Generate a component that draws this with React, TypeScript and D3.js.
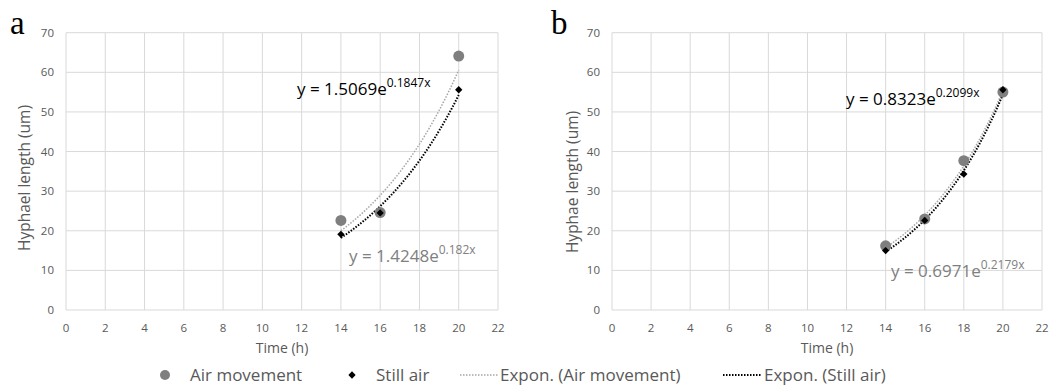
import React, { useEffect, useRef } from "react";
import * as d3 from "d3";

// panel a
const timesA = [14, 16, 20];
const airMovementA = [22.6, 24.6, 64.1];
const stillAirA = [19.1, 24.5, 55.6];
// exponential trendlines a = [air movement, still air]
const fitCoefA = [1.5069, 1.4248];
const fitRateA = [0.1847, 0.182];
const fitLabelsA = [
  ["y = 1.5069e", "0.1847x"],
  ["y = 1.4248e", "0.182x"],
];

// panel b
const timesB = [14, 16, 18, 20];
const airMovementB = [16.2, 23.0, 37.7, 55.0];
const stillAirB = [15.0, 22.6, 34.3, 55.6];
const fitCoefB = [0.8323, 0.6971];
const fitRateB = [0.2099, 0.2179];
const fitLabelsB = [
  ["y = 0.8323e", "0.2099x"],
  ["y = 0.6971e", "0.2179x"],
];

const xTicks = [0, 2, 4, 6, 8, 10, 12, 14, 16, 18, 20, 22];
const yTicks = [0, 10, 20, 30, 40, 50, 60, 70];
const legendNames = [
  "Air movement",
  "Still air",
  "Expon. (Air movement)",
  "Expon. (Still air)",
];

const FONT = "'Open Sans', sans-serif";
const GRAY = "#7f7f7f";
const TXT = "#595959";

const App = () => {
  const ref = useRef(null);
  const dimensions = { width: 1059, height: 385 };

  useEffect(() => {
    const svg = d3.select(ref.current);
    svg.selectAll("*").remove();
    svg
      .attr("width", dimensions.width)
      .attr("height", dimensions.height)
      .style("background-color", "white");

    const panels = [
      {
        letter: "a",
        letterX: 10,
        left: 66,
        right: 498,
        yTitle: "Hyphael length (um)",
        yTitleX: 30,
        yTitleY: 178,
        times: timesA,
        air: airMovementA,
        still: stillAirA,
        coef: fitCoefA,
        rate: fitRateA,
        labels: fitLabelsA,
        labelPos: [
          [297, 95, "#000000"],
          [349, 262, "#808080"],
        ],
      },
      {
        letter: "b",
        letterX: 551,
        left: 612,
        right: 1042,
        yTitle: "Hyphae length (um)",
        yTitleX: 578,
        yTitleY: 182,
        times: timesB,
        air: airMovementB,
        still: stillAirB,
        coef: fitCoefB,
        rate: fitRateB,
        labels: fitLabelsB,
        labelPos: [
          [846, 105, "#000000"],
          [891, 277, "#808080"],
        ],
      },
    ];

    panels.forEach((p) => {
      const x = d3.scaleLinear().domain([0, 22]).range([p.left, p.right]);
      const y = d3.scaleLinear().domain([0, 70]).range([310, 32.7]);
      const g = svg.append("g");

      // grid
      g.selectAll("line.vg")
        .data(xTicks)
        .join("line")
        .attr("x1", (d) => x(d))
        .attr("x2", (d) => x(d))
        .attr("y1", y(0))
        .attr("y2", y(70))
        .attr("stroke", "#d9d9d9")
        .attr("stroke-width", 1);
      g.selectAll("line.hg")
        .data(yTicks)
        .join("line")
        .attr("x1", x(0))
        .attr("x2", x(22))
        .attr("y1", (d) => y(d))
        .attr("y2", (d) => y(d))
        .attr("stroke", "#d9d9d9")
        .attr("stroke-width", 1);

      // tick labels
      g.selectAll("text.xt")
        .data(xTicks)
        .join("text")
        .attr("x", (d) => x(d))
        .attr("y", 332)
        .attr("text-anchor", "middle")
        .style("font-family", FONT)
        .style("font-size", "11.5px")
        .attr("fill", TXT)
        .text((d) => d);
      g.selectAll("text.yt")
        .data(yTicks)
        .join("text")
        .attr("x", x(0) - 12)
        .attr("y", (d) => y(d) + 4)
        .attr("text-anchor", "end")
        .style("font-family", FONT)
        .style("font-size", "11.5px")
        .attr("fill", TXT)
        .text((d) => d);

      // axis titles
      g.append("text")
        .attr("x", (p.left + p.right) / 2)
        .attr("y", 353)
        .attr("text-anchor", "middle")
        .style("font-family", FONT)
        .style("font-size", "14px")
        .attr("fill", TXT)
        .text("Time (h)");
      g.append("text")
        .attr("transform", `translate(${p.yTitleX},${p.yTitleY}) rotate(-90)`)
        .attr("text-anchor", "middle")
        .style("font-family", FONT)
        .style("font-size", "15.5px")
        .attr("fill", TXT)
        .text(p.yTitle);

      // panel letter
      g.append("text")
        .attr("x", p.letterX)
        .attr("y", 34)
        .style("font-family", "'Liberation Serif', 'DejaVu Serif', serif")
        .style("font-size", "33px")
        .attr("fill", "#000")
        .text(p.letter);

      // trendlines from the fitted equations
      const line = d3
        .line()
        .x((d) => x(d[0]))
        .y((d) => y(d[1]));
      const t0 = d3.min(p.times);
      const t1 = d3.max(p.times);
      const ts = d3.range(t0, t1 + 0.001, 0.1);
      [0, 1].forEach((k) => {
        g.append("path")
          .attr("d", line(ts.map((t) => [t, p.coef[k] * Math.exp(p.rate[k] * t)])))
          .attr("fill", "none")
          .attr("stroke", k === 0 ? "#a6a6a6" : "#000")
          .attr("stroke-width", k === 0 ? 1.5 : 2)
          .attr("stroke-dasharray", "1.5 1.5");
      });

      // markers
      g.selectAll("circle.air")
        .data(p.times)
        .join("circle")
        .attr("cx", (d) => x(d))
        .attr("cy", (d, i) => y(p.air[i]))
        .attr("r", 5.5)
        .attr("fill", GRAY);
      g.selectAll("path.still")
        .data(p.times)
        .join("path")
        .attr("d", d3.symbol().type(d3.symbolDiamond2).size(34))
        .attr("transform", (d, i) => `translate(${x(d)},${y(p.still[i])})`)
        .attr("fill", "#000");

      // equation labels
      p.labels.forEach((lab, k) => {
        const [lx, ly, col] = p.labelPos[k];
        const t = g
          .append("text")
          .attr("x", lx)
          .attr("y", ly)
          .style("font-family", FONT)
          .style("font-size", "17px")
          .attr("fill", col);
        t.append("tspan").text(lab[0]);
        t.append("tspan")
          .attr("dy", -8)
          .style("font-size", "12px")
          .text(lab[1]);
      });
    });

    // legend
    const leg = svg.append("g").attr("transform", "translate(0,375)");
    const legX = [165, 352, 460, 723];
    const legText = [190, 376, 500, 764];
    leg.append("circle").attr("cx", legX[0]).attr("cy", 0).attr("r", 5).attr("fill", GRAY);
    leg
      .append("path")
      .attr("d", d3.symbol().type(d3.symbolDiamond2).size(34))
      .attr("transform", `translate(${legX[1]},0)`)
      .attr("fill", "#000");
    [2, 3].forEach((i) => {
      leg
        .append("line")
        .attr("x1", legX[i])
        .attr("x2", legX[i] + 38)
        .attr("y1", 0)
        .attr("y2", 0)
        .attr("stroke", i === 2 ? "#a6a6a6" : "#000")
        .attr("stroke-width", i === 2 ? 1.5 : 2)
        .attr("stroke-dasharray", "1.5 1.5");
    });
    leg
      .selectAll("text")
      .data(legendNames)
      .join("text")
      .attr("x", (d, i) => legText[i])
      .attr("y", 6)
      .style("font-family", FONT)
      .style("font-size", "17px")
      .attr("fill", TXT)
      .text((d) => d);
    // eslint-disable-next-line
  }, []);

  return (
    <svg
      ref={ref}
      style={{ position: "absolute", left: 0, top: 0, display: "block" }}
    ></svg>
  );
};

export default App;
